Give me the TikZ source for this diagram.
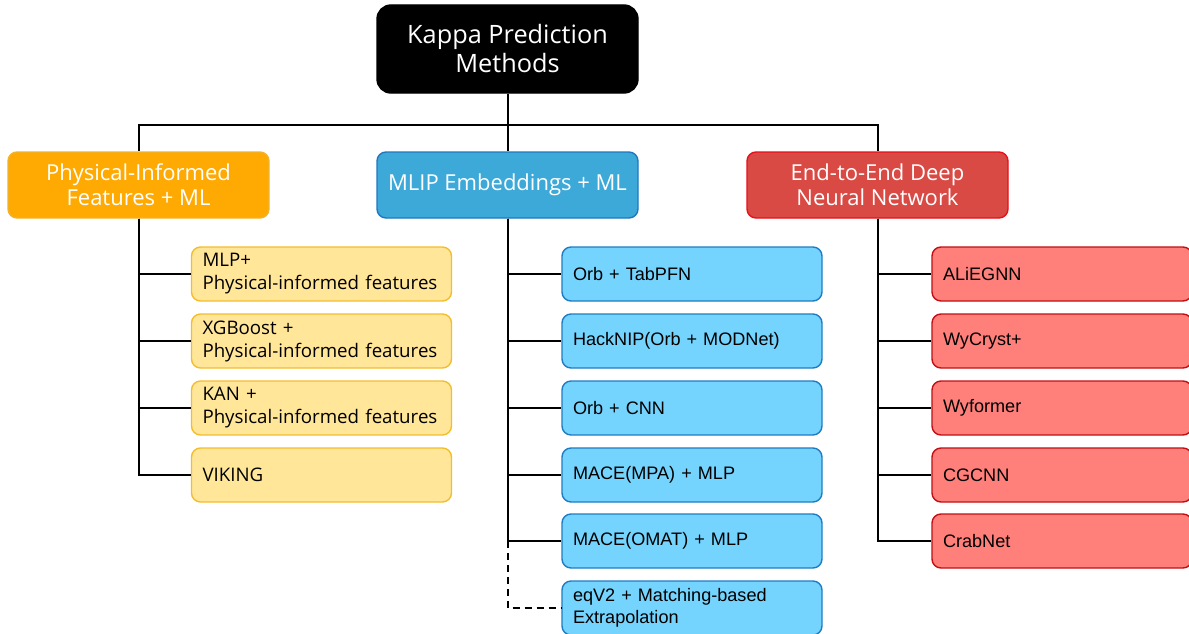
\documentclass[tikz,border=0pt]{standalone}
\usepackage{fontspec}
\setmainfont{Open Sans}
\newfontfamily\leaffont{Liberation Sans}
\usetikzlibrary{arrows.meta,positioning,calc}
\definecolor{catorange}{HTML}{FFA903}
\definecolor{catorangeline}{HTML}{F2B32A}
\definecolor{catblue}{HTML}{3DA9D8}
\definecolor{catblueline}{HTML}{1F78BE}
\definecolor{catred}{HTML}{D94A44}
\definecolor{catredline}{HTML}{E8101A}
\definecolor{leafyellow}{HTML}{FFE699}
\definecolor{leafyellowline}{HTML}{F3BE2E}
\definecolor{leafblue}{HTML}{74D4FE}
\definecolor{leafblueline}{HTML}{1E7CC2}
\definecolor{leafred}{HTML}{FF7F7B}
\definecolor{leafredline}{HTML}{C30F14}
\tikzset{
  box/.style={rounded corners=9pt, line width=1.4pt, align=center, inner sep=0pt},
  rootbox/.style={box, rounded corners=14pt, draw=black, fill=black, text=white, minimum width=261pt, minimum height=88pt, font=\fontsize{25.3}{29}\selectfont},
  catbox/.style={box, minimum width=261pt, minimum height=66pt, text=white, font=\fontsize{22}{25}\selectfont},
  leafbox/.style={box, text width=238pt, inner xsep=11pt, align=left, minimum height=54pt, font=\fontsize{18.7}{23}\selectfont},
  yleaf/.style={leafbox, draw=leafyellowline, fill=leafyellow},
  bleaf/.style={leafbox, draw=leafblueline, fill=leafblue, font=\leaffont\fontsize{18.1}{22}\selectfont},
  rleaf/.style={leafbox, draw=leafredline, fill=leafred, font=\leaffont\fontsize{18.1}{22}\selectfont},
  link/.style={line width=2pt, draw=black},
  dashlink/.style={link, dash pattern=on 7pt off 5pt}
}
\begin{document}
\begin{tikzpicture}[x=1pt, y=-1pt]
  \useasboundingbox (0,0) rectangle (1189,634);
  % root and categories
  \node[rootbox] (root) at (507.5,49) {Kappa Prediction\\Methods};
  \node[catbox, draw=catorangeline, fill=catorange] (phys) at (138.5,185) {Physical-Informed\\Features + ML};
  \node[catbox, draw=catblueline, fill=catblue] (mlip) at (507.5,185) {MLIP Embeddings + ML};
  \node[catbox, draw=catredline, fill=catred] (e2e) at (877.5,185) {End-to-End Deep\\Neural Network};
  \coordinate (bus) at (507.5,125);
  \draw[link] (root.south) -- (bus);
  \draw[link] (bus) -| (phys.north);
  \draw[link] (bus) -| (e2e.north);
  \draw[link] (bus) -- (mlip.north);
  % physical-informed branch
  \node[yleaf] (p1) at (321.5,274) {MLP+\\Physical-informed features};
  \node[yleaf] (p2) at (321.5,341) {XGBoost +\\Physical-informed features};
  \node[yleaf] (p3) at (321.5,408) {KAN +\\Physical-informed features};
  \node[yleaf] (p4) at (321.5,475) {VIKING};
  \foreach \leaf in {p1,p2,p3,p4}
    \draw[link] (phys.south) |- (\leaf.west);
  % MLIP branch
  \node[bleaf] (m1) at (692,274) {Orb + TabPFN};
  \node[bleaf] (m2) at (692,341) {HackNIP(Orb + MODNet)};
  \node[bleaf] (m3) at (692,408) {Orb + CNN};
  \node[bleaf] (m4) at (692,475) {MACE(MPA) + MLP};
  \node[bleaf] (m5) at (692,541) {MACE(OMAT) + MLP};
  \node[bleaf] (m6) at (692,608) {eqV2 + Matching-based\\Extrapolation};
  \foreach \leaf in {m1,m2,m3,m4,m5}
    \draw[link] (mlip.south) |- (\leaf.west);
  \draw[dashlink] (mlip.south |- m5.west) |- (m6.west);
  % end-to-end branch
  \node[rleaf] (r1) at (1062,274) {ALiEGNN};
  \node[rleaf] (r2) at (1062,341) {WyCryst+};
  \node[rleaf] (r3) at (1062,408) {Wyformer};
  \node[rleaf] (r4) at (1062,475) {CGCNN};
  \node[rleaf] (r5) at (1062,541) {CrabNet};
  \foreach \leaf in {r1,r2,r3,r4,r5}
    \draw[link] (e2e.south) |- (\leaf.west);
\end{tikzpicture}
\end{document}
